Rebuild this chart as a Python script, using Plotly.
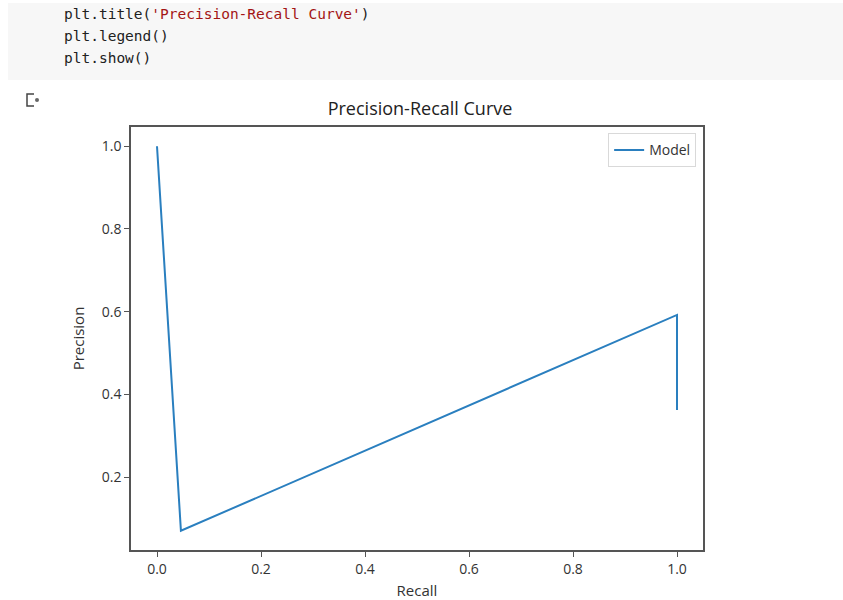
import plotly.graph_objects as go

recall = [1.0, 1.0, 0.046, 0.0]
precision = [0.362, 0.592, 0.070, 1.0]
x_ticks = [0.0, 0.2, 0.4, 0.6, 0.8, 1.0]
y_ticks = [0.2, 0.4, 0.6, 0.8, 1.0]
code_lines = [
    ("plt.title(", "'Precision-Recall Curve'", ")"),
    ("plt.legend()", "", ""),
    ("plt.show()", "", ""),
]

W, H = 843, 600
L, R, T, B = 131, 703, 127, 550
PW, PH = R - L, B - T


def px(x):
    return (x - L) / PW


def py(y):
    return (B - y) / PH


FONT = "Open Sans"
fig = go.Figure()
fig.add_trace(go.Scatter(x=recall, y=precision, mode="lines", name="Model",
                         line=dict(color="#2a7fbf", width=2)))

shapes = []
# code cell background
shapes.append(dict(type="rect", xref="paper", yref="paper", x0=px(8), x1=px(843),
                   y0=py(80), y1=py(3), fillcolor="#f7f7f7", line=dict(width=0), layer="below"))
# output icon
shapes.append(dict(type="path", xref="paper", yref="paper",
                   path=f"M {px(34)},{py(94)} L {px(27)},{py(94)} L {px(27)},{py(106)} L {px(34)},{py(106)}",
                   line=dict(color="#444", width=1.5)))
shapes.append(dict(type="circle", xref="paper", yref="paper", x0=px(35), x1=px(39),
                   y0=py(102), y1=py(98), fillcolor="#666", line=dict(width=0)))

annotations = []
ys = [14, 36, 58]
for (a, s, c), yy in zip(code_lines, ys):
    txt = f"<span style='color:#212121'>{a}</span>"
    if s:
        txt += f"<span style='color:#a31515'>{s}</span><span style='color:#212121'>{c}</span>"
    annotations.append(dict(text=txt, xref="paper", yref="paper", x=px(62), y=py(yy),
                            xanchor="left", yanchor="middle", showarrow=False,
                            font=dict(family="DejaVu Sans Mono", size=14.5)))

fig.update_layout(
    width=W, height=H,
    margin=dict(l=L, r=W - R, t=T, b=H - B, autoexpand=False),
    paper_bgcolor="white", plot_bgcolor="white",
    title=dict(text="Precision-Recall Curve", x=px(416), xanchor="center",
               y=1 - 109 / H, yanchor="middle",
               font=dict(family=FONT, size=18, color="#222")),
    xaxis=dict(range=[-0.05, 1.05], tickvals=x_ticks, ticktext=[f"{v:.1f}" for v in x_ticks],
               automargin=False,
               showgrid=False, zeroline=False, showline=True, mirror=True,
               linecolor="#555", linewidth=1.5, ticks="outside", ticklen=5, tickcolor="#555",
               tickfont=dict(family=FONT, size=14, color="#333"),
               title=dict(text="Recall", font=dict(family=FONT, size=15, color="#333"), standoff=10)),
    yaxis=dict(range=[0.0235, 1.0465], tickvals=y_ticks, ticktext=[f"{v:.1f}" for v in y_ticks],
               automargin=False,
               showgrid=False, zeroline=False, showline=True, mirror=True,
               linecolor="#555", linewidth=1.5, ticks="outside", ticklen=5, tickcolor="#555",
               tickfont=dict(family=FONT, size=14, color="#333"),
               title=dict(text="Precision", font=dict(family=FONT, size=15, color="#333"), standoff=14)),
    legend=dict(x=0.988, y=0.985, xanchor="right", yanchor="top",
                bordercolor="#d9d9d9", borderwidth=1, bgcolor="white",
                font=dict(family=FONT, size=14, color="#333")),
    showlegend=True,
    shapes=shapes,
    annotations=annotations,
)

fig.write_html("out.html")
